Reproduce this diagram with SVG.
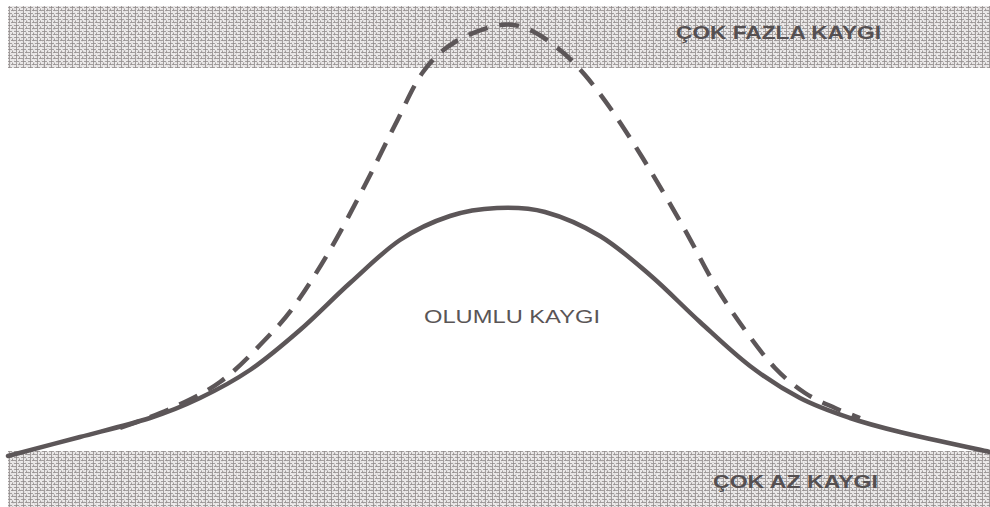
<svg xmlns="http://www.w3.org/2000/svg" width="990" height="507" viewBox="0 0 990 507">
  <style>
    .lbl { font-family: "Liberation Sans", Arial, sans-serif; fill: #5a5556; }
    .band-lbl { font-weight: bold; font-size: 19px; fill: #555052; }
    .curve { fill: none; stroke: #5c5658; stroke-width: 4.5; stroke-linecap: round; stroke-linejoin: round; }
    .dash { stroke-dasharray: 20 12; stroke-linecap: butt; }
  </style>
  <defs>
    <pattern id="tex" width="7" height="6" patternUnits="userSpaceOnUse">
      <rect width="7" height="6" fill="#eeecec"/>
      <path d="M0 1.5h5M2.5 0v6M0 4.5h2M4 4.5h3M5.5 2.5v2" stroke="#8d8888" stroke-width="0.8" fill="none"/>
    </pattern>
    <filter id="noise" x="0" y="0" width="100%" height="100%">
      <feTurbulence type="fractalNoise" baseFrequency="0.85" numOctaves="1" seed="3" result="n"/>
      <feColorMatrix in="n" type="matrix" values="0 0 0 0 0.45  0 0 0 0 0.43  0 0 0 0 0.43  1.8 0 0 0 -0.75"/>
    </filter>
  </defs>

  <rect width="990" height="507" fill="#ffffff"/>

  <g id="band-high">
    <rect x="8" y="6" width="982" height="62" fill="url(#tex)"/>
    <rect x="8" y="6" width="982" height="62" filter="url(#noise)" opacity="0.6"/>
    <text class="lbl band-lbl" x="676" y="39" textLength="205" lengthAdjust="spacingAndGlyphs">ÇOK FAZLA KAYGI</text>
  </g>

  <g id="band-low">
    <rect x="8" y="451" width="982" height="56" fill="url(#tex)"/>
    <rect x="8" y="451" width="982" height="56" filter="url(#noise)" opacity="0.6"/>
    <text class="lbl band-lbl" x="713" y="488" textLength="165" lengthAdjust="spacingAndGlyphs">ÇOK AZ KAYGI</text>
  </g>

  <g id="connectors">
    <path id="curve-positive" class="curve" d="M8,456 C20,452.8 56.3,443.3 80,437 C103.7,430.7 130,424.5 150,418 C170,411.5 183.3,406 200,398 C216.7,390 233.3,381.3 250,370 C266.7,358.7 283.3,344.5 300,330 C316.7,315.5 333.3,298 350,283 C366.7,268 383.3,251.2 400,240 C416.7,228.8 433.8,221.3 450,216 C466.2,210.7 481.2,208.7 497,208 C512.8,207.3 527.8,207.3 545,212 C562.2,216.7 582.5,225.5 600,236 C617.5,246.5 633.3,260.7 650,275 C666.7,289.3 683.3,306.8 700,322 C716.7,337.2 733.3,353.3 750,366 C766.7,378.7 783.3,389.3 800,398 C816.7,406.7 833.3,412.3 850,418 C866.7,423.7 876.7,426.3 900,432 C923.3,437.7 975,448.7 990,452"/>
    <path id="curve-excess" class="curve dash" d="M120,428 C128.3,425 153.3,416.7 170,409 C186.7,401.3 205,393 220,382 C235,371 247.5,358.3 260,345 C272.5,331.7 283.3,321.7 295,305 C306.7,288.3 318.3,270 330,250 C341.7,230 354.2,205.8 365,185 C375.8,164.2 385.3,143.8 395,125 C404.7,106.2 413,85.8 423,72 C433,58.2 442.2,49.8 455,42 C467.8,34.2 487.5,27 500,25 C512.5,23 520,25.8 530,30 C540,34.2 550.8,42.5 560,50 C569.2,57.5 575.8,64.2 585,75 C594.2,85.8 604.2,99.2 615,115 C625.8,130.8 638.3,150.8 650,170 C661.7,189.2 674.2,210.8 685,230 C695.8,249.2 705,268.3 715,285 C725,301.7 735,316.2 745,330 C755,343.8 765,357.5 775,368 C785,378.5 795,386.3 805,393 C815,399.7 825.8,403.8 835,408 C844.2,412.2 855.8,416.3 860,418"/>
  </g>

  <g id="label-positive">
    <text class="lbl" x="424" y="323" font-size="19" textLength="176" lengthAdjust="spacingAndGlyphs">OLUMLU KAYGI</text>
  </g>
</svg>
